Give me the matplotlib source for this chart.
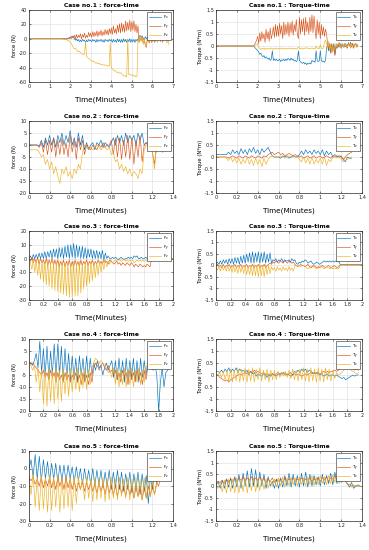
import numpy as np
import matplotlib.pyplot as plt
from matplotlib.ticker import FuncFormatter

plt.rcParams['axes.unicode_minus'] = False
plt.rcParams['font.family'] = 'DejaVu Sans'

# ---- data ----
# case 1, sample step 0.05 min
dt1 = 0.05
fx1 = [0, 0, 0, 0, 0, 0, 0, 0, 0, 0,
       0, 0, 0, 0, 0, 0, 0, 0, 0, 0,
       0, 0, 0, 0, 0, 0, 0, 0, 0, 0,
       0, 0, 0, 0, 0, 0, 0, 0, 1, 1,
       2, 3, 2, 3, 1, -2, 0, -3, -1, -4,
       -2, -4, -1, -3, -2, -5, -2, -4, -1, -3,
       -2, -4, -1, -3, -2, -5, -1, -4, -2, -3,
       -1, -4, -2, -5, -1, -3, -2, -4, -1, -3,
       -1, -5, -1, -4, -2, -5, 0, -4, -1, -5,
       -1, -5, 0, -4, -1, -5, -1, -4, 0, -5,
       -1, -4, -1, -5, -1, -3, 0, 3, 5, 2,
       4, 1, -2, 3, 0, 2, -1, 3, 1, 2,
       0, 2, 1, 3, 0, 2, 1, 4, 2, 3,
       1, 3, 2, 2, 1, 2, 1]
fy1 = [0, 0, 0, 0, 0, 0, 0, 0, 0, 0,
       0, 0, 0, 0, 0, 0, 0, 0, 0, 0,
       0, 0, 0, 0, 0, 0, 0, 0, 0, 0,
       0, 0, 0, 0, 0, 0, -1, 0, 1, 0,
       2, 0, 4, 1, 5, 0, 6, 1, 5, 2,
       7, 0, 6, 2, 8, 1, 5, 2, 9, 3,
       8, 2, 10, 3, 9, 4, 11, 3, 10, 5,
       12, 4, 10, 5, 13, 6, 12, 5, 14, 7,
       15, 6, 18, 8, 14, 7, 19, 9, 21, 8,
       22, 10, 20, 9, 25, 11, 23, 12, 26, 10,
       24, 12, 25, 10, 20, 8, 18, -5, 2, -3,
       3, -5, -3, -8, -12, 0, -2, -6, 2, -5,
       -3, -1, -5, -3, 2, 0, -2, 3, -4, 5,
       -5, 3, -2, 4, -3, 0, -3]
fz1 = [0, 0, 0, 0, 0, 0, 0, 0, 0, 0,
       0, 0, 0, 0, 0, 0, 0, 0, 0, 0,
       0, 0, 0, 0, 0, 0, 0, 0, 0, 0,
       0, 0, 0, 0, -1, -1, -1, -2, -2, -3,
       -4, -6, -9, -12, -14, -13, -15, -17, -18, -17,
       -19, -20, -21, -22, -21, -5, -25, -26, -27, -28,
       -30, -31, -32, -31, -33, -34, -33, -35, -34, -35,
       -36, -35, -36, -37, -36, -37, -38, -37, -38, -5,
       -40, -42, -43, -45, -44, -46, -47, -46, -48, -47,
       -49, -50, -52, -51, -52, -53, 0, -50, -49, -50,
       -51, -50, -52, -51, -53, -52, 0, -5, 5, -3,
       2, -8, 0, -6, -10, -2, 3, -4, 0, -3,
       -2, 0, -4, 2, -1, -5, 0, 3, -2, 1,
       -3, 4, -2, 2, -6, 0, -8]
tx1 = [0, 0, 0, 0, 0, 0, 0, 0, 0, 0,
       0, 0, 0, 0, 0, 0, 0, 0, 0, 0,
       0, 0, 0, 0, 0, 0, 0, 0, 0, 0,
       0, 0, 0, 0, 0, 0, 0, -0.05, -0.1, -0.15,
       -0.2, -0.25, -0.35, -0.3, -0.4, -0.45, -0.4, -0.5, -0.45, -0.5,
       -0.55, -0.5, -0.6, -0.55, -0.2, -0.6, -0.55, -0.6, -0.55, -0.62,
       -0.6, -0.55, -0.65, -0.58, -0.6, -0.55, -0.62, -0.55, -0.6, -0.52,
       -0.55, -0.6, -0.5, -0.58, -0.55, -0.62, -0.6, -0.65, -0.6, -0.2,
       -0.6, -0.65, -0.7, -0.72, -0.68, -0.75, -0.7, -0.78, -0.72, -0.75,
       -0.7, -0.75, -0.6, -0.65, -0.62, -0.68, -0.2, -0.6, -0.65, -0.62,
       -0.2, -0.6, -0.65, -0.62, -0.68, -0.6, -0.1, 0.05, -0.2, 0.1,
       -0.3, 0.05, -0.15, 0.1, -0.35, 0, -0.1, 0.05, -0.05, 0.1,
       0, 0.05, -0.05, 0.1, 0, -0.05, 0.05, 0.1, 0, 0.15,
       0.05, 0.1, 0, 0.05, 0.1, 0, 0.05]
ty1 = [0, 0, 0, 0, 0, 0, 0, 0, 0, 0,
       0, 0, 0, 0, 0, 0, 0, 0, 0, 0,
       0, 0, 0, 0, 0, 0, 0, 0, 0, 0,
       0, 0, 0, 0, 0, 0, 0, 0.05, 0.15, 0.25,
       0.4, 0.1, 0.55, 0.2, 0.6, 0.3, 0.5, 0.15, 0.7, 0.3,
       0.6, 0.2, 0.75, 0.3, 0.5, 0.8, 0.35, 0.9, 0.4, 0.85,
       0.4, 0.95, 0.5, 0.85, 0.3, 1.0, 0.45, 0.9, 0.5, 1.0,
       0.4, 0.95, 0.55, 1.05, 0.45, 0.9, 0.6, 1.1, 0.5, 0.3,
       1.2, 0.5, 1.1, 0.6, 1.15, 0.45, 1.2, 0.6, 1.0, 0.5,
       1.2, 0.6, 1.3, 0.55, 1.25, 0.7, 0.3, 1.1, 0.5, 1.0,
       0.3, 0.9, 0.45, 0.8, 0.4, 0.7, 0.5, 0.1, -0.1, 0.05,
       -0.2, 0.1, -0.25, 0.05, -0.4, -0.1, 0.1, -0.05, 0.15, 0,
       -0.1, 0.1, 0, -0.05, 0.1, 0.05, -0.1, 0.15, 0, 0.05,
       -0.05, 0.1, -0.1, 0.05, 0.1, -0.05, 0]
tz1 = [0, 0, 0, 0, 0, 0, 0, 0, 0, 0,
       0, 0, 0, 0, 0, 0, 0, 0, 0, 0,
       0, 0, 0, 0, 0, 0, 0, 0, 0, 0,
       0, 0, 0, 0, 0, 0, 0, 0, 0.05, 0.05,
       0.1, -0.05, -0.1, -0.15, -0.1, -0.12, -0.08, -0.15, -0.1, -0.12,
       -0.1, -0.14, -0.08, -0.12, -0.1, -0.15, -0.1, -0.12, -0.08, -0.13,
       -0.1, -0.12, -0.08, -0.14, -0.1, -0.12, -0.09, -0.13, -0.1, -0.11,
       -0.08, -0.12, -0.1, -0.13, -0.09, -0.12, -0.1, -0.14, -0.1, -0.05,
       -0.1, -0.12, -0.08, -0.13, -0.1, -0.12, -0.06, -0.1, -0.08, -0.12,
       -0.1, -0.11, -0.07, -0.12, -0.1, -0.13, 0, -0.1, -0.08, -0.12,
       0.05, -0.1, -0.12, -0.08, 0.15, 0.25, 0.1, -0.1, 0.2, -0.2,
       0.1, -0.3, 0.05, -0.2, -0.1, 0.1, -0.05, 0.05, 0.1, -0.05,
       0, 0.1, -0.05, 0.05, 0.1, 0, -0.05, 0.1, 0.05, -0.1,
       0.1, -0.05, 0.05, 0, 0.1, -0.05, 0]

# case 2, step 0.02 min
dt2 = 0.02
fx2 = [0, 0, 0, 0, 0, -0.5, 2, -1, 3, 0,
       4, 0, 3, -1, 4, 1, 5, 0, 4, 1,
       6, 0, 3, -1, 5, 0, 4, -2, 1, -2,
       0, 1, -2, 1, 0, 2, -1, 1, 0, -1,
       1, 3, 0, 4, 1, 4, 0, 5, 1, 4,
       2, 4, 0, 5, 2, 5, 0, 1, 0, 1,
       -1, 2, -3, 0, -2, -3]
fy2 = [0, 0, 0, 0, 0, -1, 1, -3, 2, -4,
       2, -3, 3, -5, 2, -4, 3, -4, 1, -5,
       4, -3, 2, -6, 3, -2, 2, -4, 0, -1,
       -2, 0, -1, -2, 0, -1, 1, -1, 0, 0,
       2, -4, 3, -5, 3, -6, 2, -5, 4, -6,
       3, -8, 2, -5, 4, -7, 0, 1, 0, 0,
       -3, -8, 0, -1, 0, -1]
fz2 = [-2, -2, -2, -2, -2, -3, -5, -4, -8, -6,
       -10, -7, -12, -9, -13, -16, -10, -12, -9, -13,
       -11, -14, -10, -12, -8, -10, -3, 0, -1, -2,
       -1, -2, -1, 0, -1, -2, -1, -1, -2, -1,
       -4, -3, -7, -6, -10, -8, -11, -9, -12, -10,
       -13, -11, -12, -14, -10, -12, -2, 0, 0, -1,
       -3, -10, 0, -1, 0, 0]
tx2 = [0.1, 0.1, 0.1, 0.1, 0.1, 0.1, 0.2, 0.1, 0.3, 0.15,
       0.25, 0.1, 0.35, 0.15, 0.3, 0.1, 0.35, 0.2, 0.4, 0.15,
       0.3, 0.1, 0.35, 0.2, 0.3, 0.4, 0.2, 0.05, 0, 0,
       0, -0.05, 0.05, 0, 0.05, -0.05, 0, 0.05, 0, 0,
       0.1, 0.25, 0.1, 0.3, 0.15, 0.25, 0.1, 0.3, 0.15, 0.25,
       0.1, 0.3, 0.05, 0.25, 0.1, 0.2, 0, 0.05, 0, 0.05,
       0, -0.1, -0.2, 0, -0.05, -0.05]
ty2 = [0, 0, 0, 0, 0, 0, -0.05, 0, 0.05, 0,
       -0.05, 0.05, 0, -0.05, 0.05, 0, -0.05, 0.05, 0, -0.05,
       0.05, 0, -0.05, 0.05, 0, 0.1, 0.15, 0.2, 0.1, 0.15,
       0.2, 0.1, 0.15, 0.05, 0.1, 0.15, 0.1, 0.05, 0.1, 0.05,
       0, 0.05, -0.05, 0, 0.05, -0.05, 0, 0.05, -0.05, 0,
       0.05, -0.05, 0, 0.05, 0, -0.05, 0.05, 0.1, 0.05, 0,
       0.05, -0.1, 0, 0.1, 0.15, 0.2]
tz2 = [0, 0, 0, 0, 0, -0.05, -0.15, 0, -0.2, -0.05,
       -0.25, -0.05, -0.3, -0.1, -0.25, 0, -0.3, -0.1, -0.35, -0.05,
       -0.3, -0.1, -0.4, -0.05, -0.3, -0.1, 0, 0.05, 0, 0,
       0, 0.05, 0, -0.05, 0, 0.05, 0, 0, 0.05, 0,
       -0.1, -0.2, 0, -0.25, -0.05, -0.3, 0, -0.3, -0.1, -0.25,
       -0.05, -0.3, 0, -0.35, -0.1, -0.2, 0, 0, -0.05, 0,
       -0.1, -0.2, 0, -0.1, -0.05, 0]

# case 3, step 0.02 min
dt3 = 0.02
fx3 = [0, 2, -1, 3, 0, 3, 0, 4, 0, 4,
       0, 5, 0, 5, 1, 6, 0, 7, 1, 7,
       0, 8, 1, 8, 0, 9, 1, 10, 0, 10,
       1, 11, 0, 10, 1, 9, 0, 9, 0, 8,
       0, 7, 1, 7, 0, 6, 0, 6, 0, 5,
       0, 6, -1, 4, 0, 2, 0, 0, 1, 0,
       1, 0, -1, 0, 1, 0, -1, 0, 0, 1,
       0, 1, 0, 2, 1, 2, 0, 0, 1, 0,
       0, 1, 0, 0, 1, 0, 0, 0, 0, 0,
       0, 0, 0, 0, 0, 0, 0, 0, 0, 0,
       0]
fy3 = [0, -2, 1, -3, 0, -3, 1, -4, 0, -3,
       -1, -4, 0, -5, -1, -4, 0, -5, -1, -5,
       -1, -6, -2, -5, -1, -6, -2, -5, -1, -6,
       -2, -6, -1, -5, -2, -6, -1, -5, -2, -4,
       -1, -5, -2, -4, -1, -5, -2, -4, -1, -4,
       -2, -4, -1, -3, -2, -4, -1, -2, -3, -4,
       -3, -2, -4, -3, -5, -3, -4, -5, -3, -4,
       -5, -3, -4, -6, -4, -5, -6, -4, -5, -6,
       -5, -6, -4, -5, -6, -1, 0, 0, 0, 0,
       0, 0, 0, 0, 0, 0, 0, 0, 0, 0,
       0]
fz3 = [0, -3, -8, 0, -10, -1, -12, -2, -15, -1,
       -17, -2, -19, -1, -20, -3, -22, -2, -23, -2,
       -24, -3, -25, -2, -26, -3, -27, -2, -28, -3,
       -28, -2, -27, -3, -27, -2, -25, -3, -22, -2,
       -20, -3, -18, -2, -16, -2, -14, -3, -12, -2,
       -10, -2, -8, -1, -6, -2, -4, -1, -3, -2,
       -1, -2, 0, -1, -2, -1, 0, -2, -1, -2,
       -1, -2, -1, -3, -2, -1, -2, -1, -2, -1,
       -2, -1, -2, -1, -1, 0, 0, 0, 0, 0,
       0, 0, 0, 0, 0, 0, 0, 0, 0, 0,
       0]
tx3 = [0.05, 0.15, 0.05, 0.2, 0.05, 0.25, 0.1, 0.25, 0.05, 0.3,
       0.1, 0.3, 0.05, 0.35, 0.1, 0.35, 0.05, 0.4, 0.1, 0.45,
       0.1, 0.5, 0.15, 0.55, 0.1, 0.6, 0.1, 0.55, 0.15, 0.6,
       0.1, 0.55, 0.15, 0.6, 0.1, 0.5, 0.15, 0.55, 0.1, 0.25,
       0.2, 0.3, 0.15, 0.25, 0.2, 0.3, 0.15, 0.25, 0.2, 0.2,
       0.25, 0.15, 0.3, 0.2, 0.25, 0.1, 0.05, 0.15, 0.1, 0.2,
       0.15, 0.25, 0.2, 0.1, 0.15, 0.2, 0.1, 0.05, 0.1, 0.15,
       0.1, 0.05, 0.1, 0.15, 0.2, 0.15, 0.2, 0.15, 0.2, 0.15,
       0.2, 0.15, 0.2, 0.15, 0.2, 0.05, 0.05, 0.05, 0.05, 0.05,
       0.05, 0.05, 0.05, 0.05, 0.05, 0.05, 0.05, 0.05, 0.05, 0.05,
       0.05]
ty3 = [0, 0.05, -0.05, 0, -0.1, 0.05, -0.1, 0, -0.05, 0.05,
       -0.1, 0, -0.05, 0.05, -0.1, 0, -0.05, 0.05, -0.1, 0,
       -0.05, 0.05, -0.1, 0, -0.05, 0.05, -0.1, 0, -0.05, 0.05,
       -0.1, 0, -0.05, 0.05, -0.1, 0, 0.05, 0.1, 0.05, 0.15,
       0.1, 0.2, 0.15, 0.1, 0.2, 0.15, 0.1, 0.2, 0.15, 0.1,
       0.2, 0.15, 0.1, 0.15, 0.05, 0, -0.05, 0, 0.05, 0,
       0, -0.05, 0, 0.05, -0.05, -0.1, -0.05, 0, -0.05, -0.1,
       -0.05, -0.1, -0.05, 0, -0.05, -0.1, -0.05, 0, -0.05, -0.1,
       -0.05, 0, -0.05, -0.1, -0.05, 0.02, 0.02, 0.02, 0.02, 0.02,
       0.02, 0.02, 0.02, 0.02, 0.02, 0.02, 0.02, 0.02, 0.02, 0.02,
       0.02]
tz3 = [-0.05, -0.2, -0.05, -0.25, 0, -0.2, -0.05, -0.25, 0, -0.25,
       -0.05, -0.3, 0, -0.3, -0.05, -0.35, 0, -0.3, -0.05, -0.35,
       0, -0.4, -0.05, -0.4, 0, -0.45, 0.05, -0.45, 0, -0.5,
       0.05, -0.45, 0, -0.5, 0.05, -0.4, 0, -0.35, -0.05, -0.2,
       -0.1, -0.25, -0.05, -0.2, -0.1, -0.25, -0.05, -0.2, -0.1, -0.25,
       -0.05, -0.2, -0.1, -0.25, 0, 0, -0.05, 0, -0.05, 0,
       0, -0.05, -0.1, -0.15, -0.1, -0.05, 0, -0.05, -0.1, -0.15,
       -0.1, -0.05, 0, -0.1, -0.15, -0.1, -0.05, -0.1, -0.15, -0.1,
       -0.15, -0.1, -0.15, -0.1, -0.15, 0, 0.02, 0.02, 0.02, 0.02,
       0.02, 0.02, 0.02, 0.02, 0.02, 0.02, 0.02, 0.02, 0.02, 0.02,
       0.02]

# case 4, step 0.025 min
dt4 = 0.025
fx4 = [0, 0, -1, 1, 4, -2, 9, -4,
       6, -5, 7, -6, 5, -5, 8, -6,
       8, -5, 7, -7, 6, -6, 4, -7,
       3, -6, 2, -8, 3, -5, 2, -7,
       3, -6, 2, -5, 0, -3, 1, -2,
       -1, -5, -2, 0, -3, -1, 1, -6,
       1, -7, 2, -6, 1, -8, 2, -7,
       1, -6, 2, -7, 1, -8, 2, -6,
       1, -5, 0, 1, -2, -3, -1, -5,
       -20, -8, -2, -10, -4, -3, -2]
fy4 = [0, 0, 0, -1, -2, -3, -4, -5,
       -3, -6, -4, -7, -3, -6, -4, -8,
       -4, -7, -5, -8, -4, -7, -5, -8,
       -5, -7, -4, -8, -5, -9, -4, -8,
       -5, -9, -4, -8, -2, 0, -1, -3,
       -1, 0, -2, -3, -1, -4, -3, -5,
       -3, -7, -4, -8, -3, -6, -4, -9,
       -3, -7, -4, -8, -3, -7, -4, -9,
       -3, -7, -2, 0, 1, 2, 0, 1,
       2, 0, 1, 2, 0, 1, 2]
fz4 = [0, -1, -3, -1, -8, -2, -12, -3,
       -17, -3, -18, -2, -16, -3, -17, -2,
       -15, -3, -16, -2, -13, -3, -14, -2,
       -12, -3, -11, -2, -12, -3, -10, -2,
       -11, -3, -9, -2, 0, 2, 1, 0,
       1, 0, -1, -2, -4, -3, -6, -2,
       -9, -2, -10, -3, -9, -2, -10, -3,
       -9, -2, -10, -3, -8, -2, -9, -3,
       -8, -2, 0, 2, 1, 3, 0, 2,
       1, 3, 0, 2, 1, 3, 1]
tx4 = [0.15, 0.15, 0.1, 0.2, 0.1, 0.25, 0.15, 0.3,
       0.1, 0.25, 0.15, 0.3, 0.1, 0.25, 0.15, 0.2,
       0.1, 0.2, 0, 0.15, 0.05, 0.1, -0.05, 0.05,
       0, -0.05, 0.05, 0, -0.1, 0, -0.05, 0.05,
       0, -0.05, 0.05, 0, 0.05, 0.1, 0.05, 0,
       0.05, 0.1, 0, 0.15, 0.1, 0.2, 0.1, 0.25,
       0.15, 0.25, 0.1, 0.2, 0.15, 0.1, 0.05, 0.1,
       0.05, 0, 0.05, -0.05, 0, 0.05, -0.05, 0,
       0, -0.05, 0, -0.05, -0.1, -0.15, -0.1, -0.2,
       -0.15, -0.1, -0.05, 0, -0.05, 0, 0]
ty4 = [0, 0, -0.1, -0.15, -0.2, -0.25, -0.2, -0.3,
       -0.2, -0.15, -0.1, -0.05, 0, 0.05, 0, 0.05,
       0.1, 0.05, 0.1, 0.15, 0.1, 0.2, 0.1, 0.15,
       0.1, 0.05, 0.1, 0.05, 0, 0.05, 0, 0.05,
       0, 0.05, 0.1, 0.05, 0.1, 0.05, 0, 0.05,
       0, -0.05, 0, 0.05, 0, 0.05, 0, -0.05,
       0, 0.05, 0, 0.05, 0.1, 0.05, 0.1, 0.05,
       0.1, 0.05, 0.1, 0.15, 0.1, 0.15, 0.1, 0.15,
       0.15, 0.2, 0.15, 0.2, 0.25, 0.35, 0.5, 0.55,
       0.4, 0.3, 0.35, 0.25, 0.2, 0.25, 0.2]
tz4 = [0.05, 0, 0.1, -0.1, 0.15, -0.2, 0.2, -0.25,
       0.25, -0.3, 0.2, -0.25, 0.3, -0.3, 0.25, -0.25,
       0.3, -0.3, 0.25, -0.25, 0.3, -0.3, 0.25, -0.2,
       0.3, -0.25, 0.2, -0.2, 0.25, -0.3, 0.2, -0.2,
       0.2, -0.2, 0.15, -0.1, 0.1, -0.05, 0.15, -0.1,
       0.2, -0.15, 0.25, -0.2, 0.2, -0.25, 0.25, -0.2,
       0.3, -0.25, 0.25, -0.3, 0.3, -0.25, 0.25, -0.3,
       0.3, -0.25, 0.25, -0.3, 0.3, -0.2, 0.25, -0.25,
       0.2, -0.15, 0.1, 0, 0.05, 0.1, 0.2, 0.3,
       0.25, 0.3, 0.2, 0.15, 0.1, 0.05, 0.1]

# case 5, step 0.02 min
dt5 = 0.02
fx5 = [0, 5, -5, 8, -6, 7, -7, 5, -6, 4,
       -7, 3, -6, 3, -8, 2, -7, 2, -8, 2,
       -6, 1, -8, 1, -7, 0, -9, 0, -8, -1,
       -9, 0, -10, -1, -9, -1, -11, -2, -10, -1,
       -12, -2, -11, -1, -12, -2, -13, -3, -12, -2,
       -14, -3, -12, -2, -15, -3, -13, -4, -20, -5,
       -12, -3, -8, -2, 0, 0]
fy5 = [-5, -7, -5, -9, -6, -10, -5, -11, -6, -10,
       -5, -11, -6, -12, -5, -10, -6, -12, -5, -11,
       -6, -12, -7, -13, -8, -12, -7, -13, -8, -12,
       -8, -13, -9, -14, -8, -13, -9, -15, -8, -14,
       -9, -15, -10, -16, -9, -14, -10, -16, -9, -15,
       -10, -17, -11, -16, -10, -18, -11, -17, -10, -16,
       -9, -15, -8, -10, -5, -3]
fz5 = [-5, -15, -3, -22, -5, -24, -4, -23, -5, -25,
       -4, -24, -5, -22, -4, -25, -5, -23, -4, -22,
       -5, -24, -4, -20, -5, -12, -6, -18, -5, -17,
       -6, -19, -5, -18, -6, -17, -5, -19, -6, -18,
       -5, -17, -6, -18, -5, -16, -6, -17, -5, -18,
       -6, -17, -5, -16, -6, -18, -5, -17, -6, -16,
       -7, -15, -10, -5, -2, 0]
tx5 = [0, 0.2, -0.1, 0.25, -0.1, 0.3, -0.05, 0.35, -0.1, 0.4,
       -0.05, 0.5, -0.1, 0.55, 0, 0.65, -0.05, 0.75, 0, 0.7,
       -0.05, 0.6, 0, 0.5, -0.1, 0.4, 0, 0.2, -0.1, 0.3,
       -0.1, 0.35, -0.05, 0.45, 0, 0.55, -0.05, 0.5, 0, 0.45,
       -0.05, 0.55, 0, 0.6, -0.05, 0.5, 0, 0.45, 0.05, 0.4,
       0, 0.5, 0.05, 0.45, 0.1, 0.55, 0.05, 0.6, 0.1, 0.75,
       0.15, 0.6, 0.2, 0.1, -0.05, 0.15, -0.1, 0, 0.05, 0]
ty5 = [0.1, 0.2, 0.15, 0.25, 0.1, 0.3, 0.15, 0.3, 0.2, 0.35,
       0.2, 0.35, 0.25, 0.4, 0.2, 0.35, 0.25, 0.4, 0.2, 0.35,
       0.25, 0.4, 0.2, 0.35, 0.15, 0.3, 0.2, 0.35, 0.15, 0.3,
       0.2, 0.3, 0.15, 0.35, 0.2, 0.3, 0.25, 0.35, 0.2, 0.3,
       0.25, 0.35, 0.2, 0.3, 0.25, 0.35, 0.2, 0.3, 0.25, 0.35,
       0.2, 0.35, 0.25, 0.4, 0.2, 0.35, 0.3, 0.45, 0.25, 0.5,
       0.3, 0.45, 0.25, 0.1, 0.05, 0, 0, 0, 0, 0]
tz5 = [0, -0.1, 0.2, -0.25, 0.25, -0.3, 0.3, -0.25, 0.3, -0.3,
       0.35, -0.3, 0.3, -0.25, 0.35, -0.3, 0.3, -0.2, 0.35, -0.25,
       0.3, -0.2, 0.35, -0.15, 0.3, -0.1, 0.25, 0, 0.3, -0.05,
       0.35, 0, 0.4, -0.05, 0.35, 0, 0.4, 0.05, 0.35, 0,
       0.4, 0.05, 0.35, 0, 0.4, 0.05, 0.45, 0, 0.4, 0.05,
       0.45, 0.1, 0.4, 0.05, 0.45, 0.1, 0.5, 0.15, 0.45, 0.1,
       0.5, 0.2, 0.3, 0.05, 0, -0.05, 0.05, 0, 0, 0]

force_ylims = [(-60, 40, 20), (-20, 10, 5), (-30, 20, 10), (-20, 10, 5), (-30, 10, 10)]
xlims = [(7, 1), (1.4, 0.2), (2, 0.2), (2, 0.2), (1.4, 0.2)]

# MATLAB default colours
cols = ['#0072BD', '#D95319', '#EDB120']

fig = plt.figure(figsize=(3.69, 5.5), dpi=100)

# axes boxes in pixels: (top, bottom)
rows_px = [(10, 82), (121, 193), (231, 300), (339, 411), (451, 521)]
left_px = [(29, 173), (216, 362)]

force_data = [(fx1, fy1, fz1, dt1), (fx2, fy2, fz2, dt2), (fx3, fy3, fz3, dt3),
              (fx4, fy4, fz4, dt4), (fx5, fy5, fz5, dt5)]
torque_data = [(tx1, ty1, tz1, dt1), (tx2, ty2, tz2, dt2), (tx3, ty3, tz3, dt3),
               (tx4, ty4, tz4, dt4), (tx5, ty5, tz5, dt5)]

fmt = FuncFormatter(lambda v, p: '%g' % v)


def style_axes(ax, xmax, xstep, y0, y1, ystep):
    ax.set_xlim(0, xmax)
    ax.set_ylim(y0, y1)
    ax.set_xticks(np.arange(0, xmax + xstep / 2, xstep))
    ax.set_yticks(np.arange(y0, y1 + ystep / 2, ystep))
    ax.xaxis.set_major_formatter(fmt)
    ax.yaxis.set_major_formatter(fmt)
    ax.tick_params(direction='in', length=1.5, width=0.4, labelsize=3.6,
                   pad=1.5, colors='#262626', top=True, right=True)
    ax.grid(True, color='#dcdcdc', linewidth=0.4)
    ax.set_axisbelow(True)
    for s in ax.spines.values():
        s.set_linewidth(0.5)
        s.set_color('#262626')


for r in range(5):
    top, bot = rows_px[r]
    for c in range(2):
        l, rgt = left_px[c]
        ax = fig.add_axes([l / 369, 1 - bot / 550, (rgt - l) / 369, (bot - top) / 550])
        xmax, xstep = xlims[r]
        if c == 0:
            a, b, d, dt = force_data[r]
            y0, y1, ys = force_ylims[r]
            names = ['F$_x$', 'F$_y$', 'F$_z$']
            ax.set_title('Case no.%d : force-time' % (r + 1), fontsize=4.3,
                         fontweight='bold', pad=2)
            ax.set_ylabel('force (N)', fontsize=3.8, labelpad=1)
        else:
            a, b, d, dt = torque_data[r]
            y0, y1, ys = -1.5, 1.5, 0.5
            names = ['T$_x$', 'T$_y$', 'T$_z$']
            ax.set_title('Case no.%d : Torque-time' % (r + 1), fontsize=4.3,
                         fontweight='bold', pad=2)
            ax.set_ylabel('Torque (N*m)', fontsize=3.8, labelpad=1)
        for series, col, nm in zip((a, b, d), cols, names):
            t = np.arange(len(series)) * dt
            ax.plot(t, series, color=col, linewidth=0.45, label=nm)
        style_axes(ax, xmax, xstep, y0, y1, ys)
        ax.set_xlabel('Time(Minutes)', fontsize=5.2, labelpad=5)
        leg = ax.legend(loc='upper right', fontsize=2.8, handlelength=3.2,
                        handletextpad=0.6, borderpad=0.35, labelspacing=0.15,
                        borderaxespad=0.6, fancybox=False,
                        edgecolor='#262626', framealpha=1)
        leg.get_frame().set_linewidth(0.4)

fig.savefig('out.png', dpi=100)
